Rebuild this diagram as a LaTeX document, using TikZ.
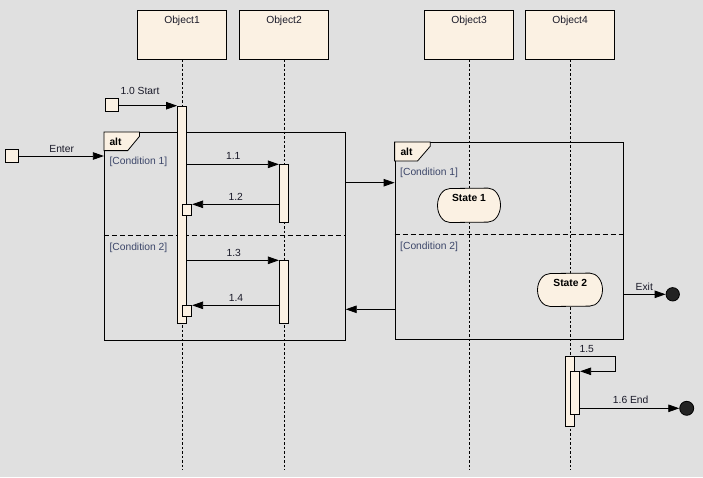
\documentclass[tikz,border=0pt]{standalone}
\usepackage{fontspec}
\setmainfont{Liberation Sans}
\usetikzlibrary{arrows.meta}
\definecolor{bg}{RGB}{224,224,224}
\definecolor{cream}{RGB}{251,241,227}
\definecolor{dark}{RGB}{35,35,35}
\definecolor{condc}{RGB}{60,70,105}
\definecolor{txt}{RGB}{25,25,40}
\tikzset{
  objbox/.style={draw, fill=cream, line width=0.8pt, minimum width=89.5pt, minimum height=49pt, inner sep=0pt},
  actbox/.style={draw, fill=cream, line width=0.8pt, inner sep=0pt, anchor=north},
  gatebox/.style={draw, fill=cream, line width=0.8pt, minimum size=13.4pt, inner sep=0pt},
  lifeline/.style={line width=0.7pt, dash pattern=on 2.5pt off 2pt},
  framebox/.style={draw, line width=0.8pt, inner sep=0pt},
  sepline/.style={line width=0.8pt, dash pattern=on 5pt off 3pt},
  tabshape/.style={draw, fill=cream, line width=0.8pt},
  msg/.style={line width=0.8pt, -{Triangle[length=11pt,width=7.5pt]}},
  lbl/.style={anchor=base, inner sep=0pt, text=txt, font=\fontsize{10.3}{12}\selectfont},
  condlbl/.style={anchor=base west, inner sep=0pt, text=condc, font=\fontsize{10.3}{12}\selectfont},
  boldlbl/.style={anchor=base, inner sep=0pt, text=black, font=\fontsize{10.3}{12}\selectfont\bfseries},
  statearea/.style={inner sep=0pt},
  stateline/.style={draw, fill=cream, line width=0.8pt},
  endpt/.style={circle, draw, fill=dark, line width=0.8pt, inner sep=0pt}
}
\begin{document}
\begin{tikzpicture}[x=1pt,y=-1pt]
\path[fill=bg] (0,0) rectangle (703,477);
\useasboundingbox (0,0) rectangle (703,477);
\coordinate (bot) at (0,470);
% objects
\node[objbox] (o1) at (182,34.8) {};
\node[objbox] (o2) at (284,34.8) {};
\node[objbox] (o3) at (469,34.8) {};
\node[objbox] (o4) at (570,34.8) {};
\node[lbl] (t1) at (182,23.3) {Object1};
\node[lbl] (t2) at (284,23.3) {Object2};
\node[lbl] (t3) at (469,23.3) {Object3};
\node[lbl] (t4) at (570,23.3) {Object4};
% lifelines
\draw[lifeline] (o1.south) -- (o1.south |- bot);
\draw[lifeline] (o2.south) -- (o2.south |- bot);
\draw[lifeline] (o3.south) -- (o3.south |- bot);
\draw[lifeline] (o4.south) -- (o4.south |- bot);
% frames
\node[framebox, minimum width=241pt, minimum height=207.7pt] (f1) at (224.8,236.15) {};
\node[framebox, minimum width=228.3pt, minimum height=196.7pt] (f2) at (509.15,240.65) {};
\draw[sepline] (f1.west |- 0,235.3) -- (f1.east |- 0,235.3);
\draw[sepline] (f2.west |- 0,234.3) -- (f2.east |- 0,234.3);
\draw[tabshape] (f1.north west) -- ++(35.6,0) -- ++(0,4.4) -- ++(-11.8,14.3) -- ++(-23.8,0) -- cycle;
\draw[tabshape] (f2.north west) -- ++(35.6,0) -- ++(0,4.4) -- ++(-12.6,14.6) -- ++(-23,0) -- cycle;
\node[boldlbl, anchor=base west] (alt1) at (109.3,145.3) {alt};
\node[boldlbl, anchor=base west] (alt2) at (400.3,155.3) {alt};
\node[condlbl] (c11) at (109.3,164.7) {[Condition 1]};
\node[condlbl] (c12) at (109.3,250) {[Condition 2]};
\node[condlbl] (c21) at (400,175) {[Condition 1]};
\node[condlbl] (c22) at (400,249.3) {[Condition 2]};
% activations
\node[actbox, minimum width=9pt, minimum height=217.6pt] (a1) at (182,105.7) {};
\node[actbox, minimum width=9pt, minimum height=58pt] (a2) at (283.8,164.3) {};
\node[actbox, minimum width=9pt, minimum height=63pt] (a3) at (283.8,260.3) {};
\node[actbox, minimum width=9.4pt, minimum height=11pt] (s1) at (187,204.3) {};
\node[actbox, minimum width=9.4pt, minimum height=11pt] (s2) at (187,305.3) {};
\node[actbox, minimum width=9.4pt, minimum height=70pt] (a4) at (570,356.3) {};
\node[actbox, minimum width=9.4pt, minimum height=43pt] (a5) at (575,371.3) {};
% gates
\node[gatebox] (g1) at (112,105) {};
\node[gatebox] (g2) at (12,156) {};
% states
\node[statearea, minimum width=62.6pt, minimum height=34pt] (st1) at (469,205.3) {};
\draw[stateline] ([xshift=12.5pt]st1.south west) arc[start angle=90, end angle=270, x radius=12.5, y radius=17]
  -- ([xshift=-12.5pt]st1.north east) arc[start angle=-90, end angle=90, x radius=12.5, y radius=17] -- cycle;
\node[boldlbl] (st1t) at (469,201) {State 1};
\node[statearea, minimum width=64.6pt, minimum height=33pt] (st2) at (570,289.8) {};
\draw[stateline] ([xshift=12.8pt]st2.south west) arc[start angle=90, end angle=270, x radius=12.8, y radius=16.5]
  -- ([xshift=-12.8pt]st2.north east) arc[start angle=-90, end angle=90, x radius=12.8, y radius=16.5] -- cycle;
\node[boldlbl] (st2t) at (570.3,286) {State 2};
% end points
\node[endpt, minimum size=13.4pt] (e1) at (672.7,294.3) {};
\node[endpt, minimum size=14pt] (e2) at (686.7,408.3) {};
% messages
\draw[msg] (g1.east |- a1.north) -- (a1.north west);
\node[lbl] (l10) at (140,94) {1.0 Start};
\draw[msg] (g2.east) -- (f1.west |- g2);
\node[lbl] (lent) at (61.7,152) {Enter};
\draw[msg] (a1.east |- a2.north west) -- (a2.north west);
\node[lbl] (l11) at (233.3,159.7) {1.1};
\draw[msg] (a2.west |- s1.north east) -- (s1.north east);
\node[lbl] (l12) at (235.7,200) {1.2};
\draw[msg] (a1.east |- a3.north west) -- (a3.north west);
\node[lbl] (l13) at (233.7,256) {1.3};
\draw[msg] (a3.west |- s2.north east) -- (s2.north east);
\node[lbl] (l14) at (236,301) {1.4};
\coordinate (yf1) at (0,182.7);
\coordinate (yf2) at (0,309.3);
\draw[msg] (f1.east |- yf1) -- (f2.west |- yf1);
\draw[msg] (f2.west |- yf2) -- (f1.east |- yf2);
\draw[msg] (f2.east |- e1) -- (e1.west);
\node[lbl] (lexit) at (644.3,290) {Exit};
\coordinate (sm) at (615.3,0);
\draw[msg] (a4.north east) -- (a4.north east -| sm) -- (a5.north east -| sm) -- (a5.north east);
\node[lbl] (l15) at (586.7,352.3) {1.5};
\draw[msg] (a5.east |- e2) -- (e2.west);
\node[lbl] (l16) at (630.7,403.7) {1.6 End};
\end{tikzpicture}
\end{document}
